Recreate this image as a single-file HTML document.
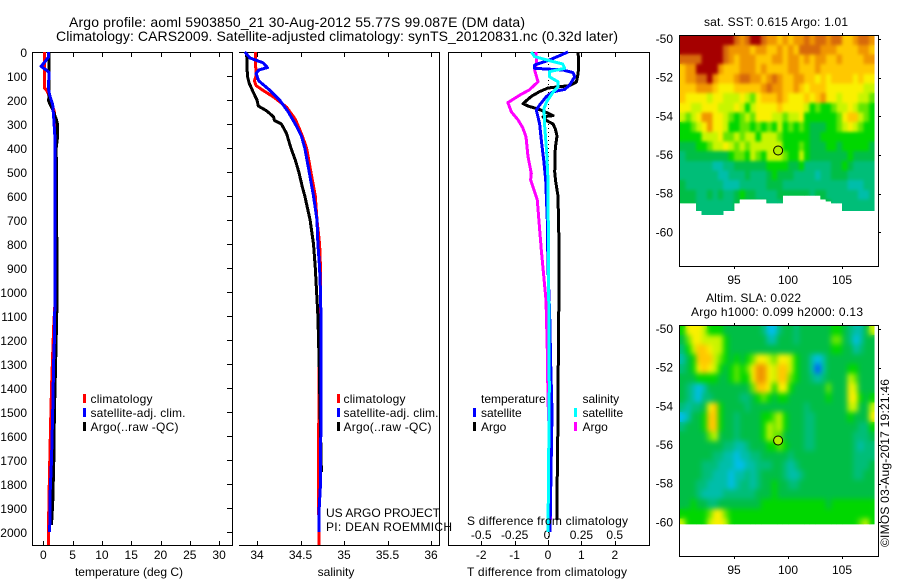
<!DOCTYPE html>
<html>
<head>
<meta charset="utf-8">
<title>Argo profile 5903850_21</title>
<style>
html,body{margin:0;padding:0;background:#fff;}
svg{display:block;}
text{font-family:"Liberation Sans",Arial,sans-serif;font-size:12px;fill:#000;}
.t{font-size:14px;}
</style>
</head>
<body>
<svg id="chart" xmlns="http://www.w3.org/2000/svg" width="900" height="580" viewBox="0 0 900 580">
  <defs>
    <filter id="blur-sst" x="-5%" y="-5%" width="110%" height="110%" color-interpolation-filters="sRGB"><feGaussianBlur stdDeviation="1.5"/></filter>
    <filter id="blur-sla" x="-5%" y="-5%" width="110%" height="110%" color-interpolation-filters="sRGB"><feGaussianBlur stdDeviation="2.6"/></filter>
  </defs>
  <g>
    <text class="t" x="69" y="27" textLength="456" lengthAdjust="spacing">Argo profile: aoml 5903850_21 30-Aug-2012 55.77S 99.087E (DM data)</text>
    <text class="t" x="56" y="41" textLength="562" lengthAdjust="spacing">Climatology: CARS2009. Satellite-adjusted climatology: synTS_20120831.nc (0.32d later)</text>
  </g>
  <g id="marks"></g>
  <g>
    <rect x="83" y="394" width="3" height="9" fill="#f00"/>
    <text x="90.5" y="403" textLength="62">climatology</text>
    <rect x="83" y="408" width="3" height="9" fill="#00f"/>
    <text x="90.5" y="417" textLength="95">satellite-adj. clim.</text>
    <rect x="83" y="422" width="3" height="9" fill="#000"/>
    <text x="90.5" y="431" textLength="88">Argo(..raw -QC)</text>
  </g>
  <g>
    <rect x="337" y="394" width="3" height="9" fill="#f00"/>
    <text x="343.5" y="403" textLength="62">climatology</text>
    <rect x="337" y="408" width="3" height="9" fill="#00f"/>
    <text x="343.5" y="417" textLength="95">satellite-adj. clim.</text>
    <rect x="337" y="422" width="3" height="9" fill="#000"/>
    <text x="343.5" y="431" textLength="88">Argo(..raw -QC)</text>
    <text x="326" y="517" textLength="114">US ARGO PROJECT</text>
    <text x="326" y="531" textLength="126">PI: DEAN ROEMMICH</text>
  </g>
  <g>
    <text x="481" y="403">temperature</text>
    <rect x="473" y="408" width="3" height="9" fill="#00f"/>
    <text x="481" y="417">satellite</text>
    <rect x="473" y="422" width="3" height="9" fill="#000"/>
    <text x="481" y="431">Argo</text>
    <text x="582.5" y="403">salinity</text>
    <rect x="574" y="408" width="3" height="9" fill="#0ff"/>
    <text x="582.5" y="417">satellite</text>
    <rect x="574" y="422" width="3" height="9" fill="#f0f"/>
    <text x="582.5" y="431">Argo</text>
  </g>
  <text x="467" y="525" textLength="161">S difference from climatology</text>
  <text x="129" y="576" text-anchor="middle">temperature (deg C)</text>
  <text x="336" y="576" text-anchor="middle">salinity</text>
  <text x="547" y="576" text-anchor="middle" textLength="160">T difference from climatology</text>
  <text x="776" y="26" text-anchor="middle" textLength="144">sat. SST: 0.615 Argo: 1.01</text>
  <text x="706" y="302" textLength="95">Altim. SLA: 0.022</text>
  <text x="691" y="316" textLength="172">Argo h1000: 0.099 h2000: 0.13</text>
  <text transform="translate(889,547) rotate(-90)" textLength="168">©IMOS 03-Aug-2017 19:21:46</text>
</svg>
<script>
// ---------- chart data ----------
const depthTicks = [0,100,200,300,400,500,600,700,800,900,1000,1100,1200,1300,1400,1500,1600,1700,1800,1900,2000];
const tempTicks = [0,5,10,15,20,25,30];
const salTicks = [34,34.5,35,35.5,36];
const tDiffTicks = [-2,-1,0,1,2];
const sDiffTicks = [-0.5,-0.25,0,0.25,0.5];
const lonTicks = [95,100,105];
const latTicks = [-50,-52,-54,-56,-58,-60];

const tempClimDepth = [0,150,160,200,250,300,1000,1150,1400,1550,1750,1950,2055];
const tempClim = [0.2,0.2,0.6,1.3,1.9,2.1,2.1,1.75,1.4,1.25,1.05,0.9,0.9];
const tempSatDepth = [0,20,40,60,75,85,150,180,220,280,360,1000,1200,1300,1500,1700,1850,2000];
const tempSat = [0.9,0.9,0.3,-0.4,0.5,1,0.85,1.1,1.6,1.8,2,2,1.9,1.75,1.6,1.4,1.15,1.1];
const tempArgoDepth = [0,190,200,220,240,280,300,360,400,800,1080,1300,1500,1700,1880,1970];
const tempArgo = [1,1,0.85,1.2,1.6,2.2,2.4,2.4,2.2,2.3,2.3,2.1,1.9,1.8,1.6,1.4];

const salClimDepth = [0,60,100,120,140,160,190,230,280,340,400,500,600,700,800,900,1000,1300,1800,2055];
const salClim = [33.98,33.985,33.99,33.97,33.99,34.07,34.2,34.34,34.44,34.51,34.57,34.62,34.67,34.69,34.72,34.73,34.73,34.715,34.705,34.715];
const salSatDepth = [0,25,45,65,75,90,120,160,200,250,300,350,400,500,600,700,800,900,1000,1100,1500,1800,1900,2000];
const salSat = [33.86,33.92,34.07,34.12,34.02,33.99,34.02,34.15,34.26,34.36,34.44,34.51,34.55,34.6,34.65,34.69,34.7,34.72,34.73,34.735,34.735,34.73,34.715,34.715];
const salArgoDepth = [0,100,130,170,200,225,245,270,285,300,340,400,450,500,560,600,700,800,900,1000,1100,1300,1500,1750];
const salArgo = [33.88,33.89,33.91,33.96,34,34.015,34.11,34.19,34.2,34.28,34.34,34.39,34.44,34.48,34.52,34.55,34.61,34.65,34.67,34.685,34.7,34.715,34.725,34.74];

const dTArgoDepth = [0,56,90,125,140,150,165,185,215,225,240,255,265,270,285,300,320,350,400,500,540,600,800,1000,1200,1500,1750,1800,1950];
const dTArgo = [0.9,0.92,0.9,0.85,0.65,0,-0.25,-0.5,-0.75,-0.6,-0.25,0,0.15,-0.15,-0.05,0.15,0.22,0.27,0.22,0.2,0.23,0.3,0.33,0.33,0.31,0.3,0.28,0.27,0.27];
const dTSatDepth = [0,33,54,68,75,86,103,138,156,166,186,221,242,298,367,450,533,700,900,1100,1300,1500,2000];
const dTSat = [0.6,0.05,-0.4,-0.4,0.45,0.75,0.8,0.65,0.5,0.15,-0.05,-0.25,-0.35,-0.25,-0.2,-0.13,-0.07,-0.02,0,0.05,0.08,0.12,0.06];
const dSSatDepth = [0,19,36,50,68,82,103,124,145,166,207,235,310,420,533,1000,1400,2000];
const dSSat = [-0.125,-0.1,0.01,0.11,0.125,0.01,0.01,0.075,0.075,0.04,-0.01,-0.03,-0.025,-0.01,0,0.005,0.01,0];
const dSArgoDepth = [0,47,75,124,158,179,211,249,283,314,353,436,506,533,617,825,1033,1242,1450,1600,1950];
const dSArgo = [-0.09,-0.085,-0.1,-0.075,-0.14,-0.21,-0.3,-0.275,-0.225,-0.19,-0.165,-0.15,-0.125,-0.13,-0.08,-0.05,-0.015,-0.005,0,0.01,0.02];

const profileLon = 99.087;
const profileLat = -55.77;

// SST map: colour-scale levels, 0.5 deg cells from lat -49.8 southward, lon 90 eastward
const sstGrid = [
[10,10,10,10,10,10,10,10,10,10,9,8,9,10,10,9,8,8,7,8,7,8,8,9,8,9,9,8,9,9,7,7,8,9,9,8],
[10,10,10,10,10,10,10,10,9,8,8,8,8,7,8,8,7,7,8,7,8,7,9,9,9,9,8,8,8,7,7,7,7,8,8,7],
[9,9,9,9,10,10,10,10,9,8,7,8,8,8,7,7,7,8,8,7,8,8,7,8,7,8,8,7,7,8,7,7,7,7,8,8],
[7,8,8,10,10,10,10,8,7,7,7,8,8,8,7,8,7,7,7,7,8,8,7,7,7,8,7,7,7,7,7,7,7,7,7,7],
[7,8,8,9,9,10,8,7,7,7,8,9,9,8,8,7,8,9,8,7,7,8,8,7,7,6,7,6,7,7,7,7,6,7,6,6],
[7,7,7,8,8,8,7,6,6,6,7,7,7,7,7,8,9,8,8,7,7,8,7,6,7,7,7,6,6,6,6,6,6,6,5,5],
[7,6,6,6,6,5,6,6,5,5,5,6,5,4,6,7,7,7,8,7,6,6,6,7,6,7,8,6,6,5,6,6,6,5,5,4],
[6,6,5,5,6,6,6,5,5,5,6,5,3,5,6,6,6,6,7,6,6,6,6,5,3,4,3,3,4,5,5,6,5,4,4,3],
[5,4,5,6,8,8,6,6,5,4,3,4,5,4,6,6,6,5,5,4,5,5,6,3,3,3,3,3,3,4,6,7,7,5,4,3],
[3,3,4,5,6,8,6,6,5,3,3,4,4,3,4,3,4,3,5,3,4,3,4,3,2,2,2,3,3,4,5,6,5,4,3,3],
[3,3,3,3,5,5,5,6,4,4,5,4,5,5,3,5,5,5,4,3,3,3,3,3,2,2,3,3,3,3,3,3,3,3,3,3],
[2,2,2,3,3,4,5,5,6,5,4,5,4,5,5,5,5,5,5,3,3,3,4,3,2,2,2,3,3,2,3,3,3,3,3,2],
[1,2,2,2,2,2,2,2,2,3,4,4,3,5,4,3,5,5,5,4,3,3,5,3,2,2,2,2,2,2,2,3,2,2,2,2],
[1,1,1,1,1,1,0,0,1,1,2,2,2,2,2,2,3,3,3,3,2,2,3,1,1,1,1,1,2,2,3,2,1,1,1,1],
[1,1,1,1,1,1,1,0,0,1,1,1,2,1,1,1,2,3,2,2,2,1,1,1,1,0,1,1,2,2,2,1,1,1,1,1],
[2,1,1,1,1,1,1,1,0,0,0,1,1,1,1,1,2,2,2,1,1,1,1,1,1,1,1,1,1,1,1,0,0,0,1,1],
[2,2,2,1,1,2,1,2,1,1,2,3,2,2,1,1,1,1,2,2,2,2,2,2,1,2,2,1,1,1,1,1,1,0,0,1],
[2,2,2,1,1,1,1,1,1,1,2,2,2,2,2,2,1,1,1,2,2,2,2,2,2,2,2,2,1,1,1,1,1,1,1,1],
[2,2,2,1,1,1,1,1,1,1,2,2,2,2,2,2,2,2,2,2,2,2,2,2,2,2,2,2,2,2,1,1,1,1,1,1]
];
// southern limit of valid SST data per column
const sstLimit = [-58.5,-58.5,-58.5,-58.9,-59.1,-59.1,-59.1,-59.1,-58.9,-58.9,-58.5,-58.3,-58.3,-58.3,-58.3,-58.3,-58.5,-58.5,-58.5,-58.1,-58.1,-58.1,-58.1,-58.1,-58.1,-58.1,-58.3,-58.4,-58.5,-58.5,-58.9,-58.9,-58.9,-58.9,-58.9,-58.9];

// SLA map: same colour-scale levels
const slaGrid = [
[3,6,6,6,5,3,3,3,2,2,2,2,2,2,2,1,-1,-1,1,2,2,1,2,2,2,2,2,2,3,3,2,1,0,0,2,5],
[2,4,6,6,5,5,5,5,3,2,2,2,2,2,2,2,0,0,2,2,2,1,2,2,2,2,2,2,4,4,2,1,-1,0,2,2],
[1,3,5,7,7,6,5,5,3,2,2,2,2,2,2,2,2,2,2,2,2,2,2,2,2,2,2,2,3,3,2,2,0,1,2,2],
[0,2,3,7,7,7,5,4,3,2,3,2,3,4,6,6,5,4,6,6,5,3,2,2,0,-1,0,2,2,2,2,2,2,2,2,2],
[1,2,3,6,7,6,5,3,2,3,4,3,4,6,8,8,6,5,7,7,5,3,2,2,0,-2,0,2,2,2,2,3,3,2,2,2],
[2,2,2,3,3,3,3,2,2,3,4,3,3,6,8,8,6,5,7,7,4,3,2,2,1,0,1,2,2,2,2,5,4,2,2,2],
[2,1,0,-1,0,2,2,2,2,2,2,2,2,4,7,7,6,3,6,6,3,2,2,2,2,2,2,4,2,2,2,6,5,2,2,2],
[2,1,0,-1,1,1,2,2,2,2,2,1,1,2,3,4,3,2,3,3,2,2,2,2,2,2,2,3,2,2,2,6,6,3,2,3],
[1,0,1,1,2,6,7,3,2,2,2,2,1,2,2,2,2,2,2,2,2,2,2,1,2,2,2,2,2,2,2,5,5,2,2,5],
[-1,0,2,2,3,7,7,3,2,2,1,2,2,2,2,3,3,4,5,3,2,2,2,1,1,2,2,2,2,2,2,3,2,2,2,6],
[1,2,2,2,3,7,7,3,2,2,1,2,2,2,2,3,5,4,5,3,2,2,2,1,1,2,2,2,2,2,2,2,2,1,1,3],
[2,2,2,2,2,4,5,2,2,2,1,2,2,2,2,3,5,4,4,2,2,2,2,1,1,2,2,2,2,2,2,2,1,1,1,2],
[2,2,2,2,2,2,2,2,1,1,0,0,1,2,2,2,3,3,4,3,2,2,2,1,1,2,2,2,2,2,2,2,1,0,1,1],
[2,2,2,2,2,2,1,1,0,0,-1,0,0,1,1,2,2,2,2,2,1,2,2,2,2,2,2,2,2,2,2,2,1,1,1,1],
[2,2,2,2,1,1,1,0,0,0,-1,-1,0,0,1,1,1,2,2,1,0,1,2,2,2,2,2,2,2,2,2,2,1,1,1,2],
[2,2,2,2,1,1,0,0,0,-1,0,0,1,0,1,2,2,2,2,1,0,0,1,2,2,2,2,2,2,2,2,2,1,1,2,2],
[2,2,2,1,1,0,0,0,0,-1,0,1,1,0,1,2,2,3,2,2,1,1,2,2,2,2,2,2,2,2,2,2,2,2,2,2],
[2,2,2,1,0,0,0,0,1,1,1,1,1,1,2,2,2,3,2,2,2,2,2,2,2,2,2,2,2,2,2,2,2,2,2,2],
[2,2,3,2,2,1,1,2,2,2,2,2,2,2,2,3,3,3,3,3,3,3,3,3,3,3,3,2,3,3,3,3,3,3,3,3],
[3,3,3,3,3,4,6,6,4,3,3,3,3,3,3,3,3,3,3,3,3,3,3,3,3,3,3,3,3,3,3,3,3,3,3,3],
[5,3,3,3,3,5,6,6,5,3,3,3,3,3,3,3,3,3,3,3,3,3,3,3,3,3,3,3,3,3,3,3,3,4,5,3]
];
const slaLimit = -60.1;

// ---------- scaffolding ----------
const NS = 'http://www.w3.org/2000/svg';
const marks = document.getElementById('marks');
const svgRoot = document.getElementById('chart');
function el(tag, attrs, parent){
  const e = document.createElementNS(NS, tag);
  for (const k in attrs) e.setAttribute(k, attrs[k]);
  (parent || marks).appendChild(e);
  return e;
}
function label(parent, name, str, x, y, anchor){
  const t = el('text', {x:x, y:y, 'text-anchor':anchor}, parent);
  
  
  t.textContent = str;
  return t;
}
function fmt(v){ return String(v); }

const yD = d => 52 + 0.24 * d;
const xTemp = v => 43.3 + 5.86 * v;
const xSal = v => 257 + 87 * (v - 34);
const xDT = v => 548 + 33.4 * v;
const xDS = v => 548 + 133.5 * v;

function line(parent, x1, y1, x2, y2, name){
  const l = el('line', {x1:x1, y1:y1, x2:x2, y2:y2, stroke:'#000', 'stroke-width':1, 'shape-rendering':'crispEdges'}, parent);
  
  
  return l;
}
function profile(parent, name, depths, values, xf, color){
  const pts = depths.map((d, i) => xf(values[i]).toFixed(1) + ',' + yD(d).toFixed(1)).join(' ');
  const p = el('polyline', {points:pts, fill:'none', stroke:color, 'stroke-width':3, 'stroke-linejoin':'round', 'shape-rendering':'crispEdges'}, parent);
  
  
}

// ---------- temperature panel ----------
const g1 = el('g', {});


line(g1, 32.5, 52.5, 232.5, 52.5, 'top-axis');
line(g1, 32.5, 545.5, 232.5, 545.5, 'bottom-axis');
line(g1, 32.5, 52, 32.5, 546, 'left-axis');
line(g1, 232.5, 52, 232.5, 546, 'right-axis');
depthTicks.forEach(d => {
  const y = Math.round(yD(d)) + 0.5;
  line(g1, 227, y, 232, y, 'depth-tick');
  label(g1, 'depth-tick-label', fmt(d), 27, yD(d) + 5, 'end');
});
tempTicks.forEach(v => {
  const x = Math.round(xTemp(v)) + 0.5;
  line(g1, x, 52, x, 57, 'temperature-top-tick');
  line(g1, x, 541, x, 545, 'temperature-bottom-tick');
  label(g1, 'temperature-tick-label', fmt(v), xTemp(v), 559, 'middle');
});
profile(g1, 'temperature-climatology-line', tempClimDepth, tempClim, xTemp, '#f00');
profile(g1, 'temperature-argo-line', tempArgoDepth, tempArgo, xTemp, '#000');
profile(g1, 'temperature-satellite-line', tempSatDepth, tempSat, xTemp, '#00f');

// ---------- salinity panel ----------
const g2 = el('g', {});


line(g2, 239, 52.5, 439.5, 52.5, 'top-axis');
line(g2, 239, 545.5, 439.5, 545.5, 'bottom-axis');
line(g2, 439.5, 52, 439.5, 546, 'right-axis');
salTicks.forEach(v => {
  const x = Math.round(xSal(v)) + 0.5;
  line(g2, x, 52, x, 57, 'salinity-top-tick');
  line(g2, x, 541, x, 545, 'salinity-bottom-tick');
  label(g2, 'salinity-tick-label', fmt(v), xSal(v), 559, 'middle');
});
profile(g2, 'salinity-climatology-line', salClimDepth, salClim, xSal, '#f00');
profile(g2, 'salinity-argo-line', salArgoDepth, salArgo, xSal, '#000');
profile(g2, 'salinity-satellite-line', salSatDepth, salSat, xSal, '#00f');

// ---------- difference panel ----------
const g3 = el('g', {});


line(g3, 448.5, 52.5, 649.5, 52.5, 'top-axis');
line(g3, 448.5, 545.5, 649.5, 545.5, 'bottom-axis');
line(g3, 448.5, 52, 448.5, 546, 'left-axis');
line(g3, 649.5, 52, 649.5, 546, 'right-axis');
const zero = el('line', {x1:548.5, y1:52, x2:548.5, y2:545, stroke:'#000', 'stroke-width':1, 'stroke-dasharray':'1 3'}, g3);


tDiffTicks.forEach(v => {
  const x = Math.round(xDT(v)) + 0.5;
  line(g3, x, 52, x, 57, 't-difference-top-tick');
  line(g3, x, 541, x, 545, 't-difference-bottom-tick');
  label(g3, 't-difference-tick-label', fmt(v), xDT(v), 559, 'middle');
});
sDiffTicks.forEach(v => {
  label(g3, 's-difference-tick-label', fmt(v), xDS(v) - (v === 0 ? 1 : 0), 539, 'middle');
});
profile(g3, 's-difference-argo-line', dSArgoDepth, dSArgo, xDS, '#f0f');
profile(g3, 't-difference-argo-line', dTArgoDepth, dTArgo, xDT, '#000');
profile(g3, 't-difference-satellite-line', dTSatDepth, dTSat, xDT, '#00f');
profile(g3, 's-difference-satellite-line', dSSatDepth, dSSat, xDS, '#0ff');

// ---------- maps ----------
const levelStops = [
  [-2,0,90,255],[-1,0,190,235],[0,0,190,170],[1,0,190,120],[2,0,190,70],[3,0,215,0],
  [4,100,230,0],[5,200,245,0],[6,250,240,0],[7,255,200,0],[8,240,150,0],[9,215,105,10],[10,165,0,0]
];
function levelColor(v){
  let a = levelStops[0], b = levelStops[levelStops.length - 1];
  if (v <= a[0]) b = a;
  else if (v >= b[0]) a = b;
  else for (let i = 0; i < levelStops.length - 1; i++) {
    if (v >= levelStops[i][0] && v <= levelStops[i+1][0]) { a = levelStops[i]; b = levelStops[i+1]; break; }
  }
  const f = a === b ? 0 : (v - a[0]) / (b[0] - a[0]);
  return 'rgb(' + [1,2,3].map(k => Math.round(a[k] + (b[k] - a[k]) * f)).join(',') + ')';
}

function drawMap(name, top, grid, limitAt, blurId){
  const left = 680, right = 878, h = 231;
  const lat0 = top + 4;                     // y of lat -50
  const xLon = v => left + (v - 90) * 10.8;
  const yLat = v => lat0 + (-50 - v) * 19.33;
  const g = el('g', {});
  
  

  // valid-data footprint, column by column
  const clip = el('clipPath', {id: name + '-clip'}, g);
  grid[0].forEach((_, c) => {
    el('rect', {x: xLon(90 + c * 0.5).toFixed(1), y: top, width: 5.6, height: (yLat(limitAt(c)) - top).toFixed(1)}, clip);
  });
  const wrap = el('g', {'clip-path': 'url(#' + name + '-clip)'}, g);
  
  
  const cells = el('g', {id: name + '-cells'}, wrap);
  
  
  grid.forEach((row, r) => {
    row.forEach((v, c) => {
      const y0 = yLat(-49.8 - r * 0.5), y1 = yLat(-50.3 - r * 0.5);
      const cell = el('rect', {
        x: xLon(90 + c * 0.5).toFixed(1), y: y0.toFixed(1),
        width: 5.7, height: (y1 - y0 + 0.3).toFixed(1),
        fill: levelColor(v), 'shape-rendering':'crispEdges'
      }, cells);
      
      
    });
  });
  // smoothed copy laid over the raw cells
  const smooth = el('use', {href: '#' + name + '-cells', filter: 'url(#' + blurId + ')'}, wrap);
  
  

  line(g, left - 0.5, top + 0.5, right + 0.5, top + 0.5, 'map-top-axis');
  line(g, left - 0.5, top + h + 0.5, right + 0.5, top + h + 0.5, 'map-bottom-axis');
  line(g, left - 0.5, top, left - 0.5, top + h + 1, 'map-left-axis');
  line(g, right + 0.5, top, right + 0.5, top + h + 1, 'map-right-axis');
  lonTicks.forEach(v => {
    const x = Math.round(xLon(v)) + 0.5;
    line(g, x, top - 2, x, top, 'map-longitude-top-tick');
    line(g, x, top + h + 1, x, top + h + 3, 'map-longitude-bottom-tick');
    label(g, 'map-longitude-label', fmt(v), xLon(v), top + h + 18, 'middle');
  });
  latTicks.forEach(v => {
    const y = Math.round(yLat(v)) + 0.5;
    line(g, right + 1, y, right + 3, y, 'map-latitude-tick');
    label(g, 'map-latitude-label', '-' + Math.abs(v), 673, yLat(v) + 4, 'end');
  });
  const dot = el('circle', {cx:xLon(profileLon).toFixed(1), cy:yLat(profileLat).toFixed(1), r:4.5, fill:'#b4ee00', stroke:'#000', 'stroke-width':1}, g);
  
  
}
drawMap('sst-map', 35, sstGrid, c => sstLimit[c], 'blur-sst');
drawMap('sla-map', 325, slaGrid, () => slaLimit, 'blur-sla');
</script>
</body>
</html>
